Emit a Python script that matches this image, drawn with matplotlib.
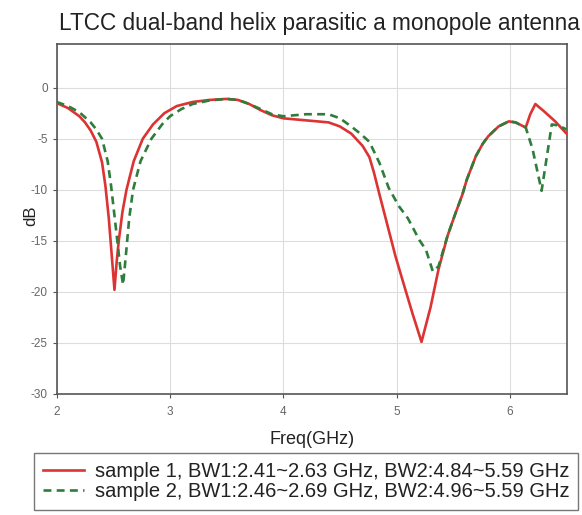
import matplotlib
matplotlib.use("Agg")
import matplotlib.pyplot as plt

plt.rcParams["font.family"] = ["Liberation Sans", "DejaVu Sans"]
plt.rcParams["axes.unicode_minus"] = False

TITLE = "LTCC dual-band helix parasitic a monopole antenna"
X_TICKS = [2, 3, 4, 5, 6]
Y_TICKS = [0, -5, -10, -15, -20, -25, -30]

# sample 1 (red, solid)
freq_1 = [2.0, 2.1, 2.2, 2.25, 2.3, 2.35, 2.4, 2.43, 2.46, 2.49, 2.51, 2.53, 2.548,
          2.58, 2.616, 2.68, 2.76, 2.85, 2.95, 3.06, 3.2, 3.35, 3.5, 3.6, 3.7,
          3.8, 3.9, 4.0, 4.1, 4.2, 4.3, 4.4, 4.5, 4.6, 4.7, 4.76, 4.8, 4.85, 4.92,
          4.99, 5.07, 5.14, 5.22, 5.30, 5.37, 5.45, 5.52, 5.58, 5.62, 5.7, 5.76,
          5.81, 5.9, 5.99, 6.05, 6.14, 6.18, 6.225, 6.3, 6.4, 6.5]
db_1 = [-1.5, -2.0, -2.8, -3.4, -4.2, -5.3, -7.3, -9.6, -12.8, -17.0, -19.8, -17.0, -15.0,
        -12.2, -10.0, -7.2, -5.0, -3.6, -2.5, -1.8, -1.4, -1.2, -1.1, -1.2, -1.6,
        -2.2, -2.7, -3.0, -3.1, -3.2, -3.3, -3.4, -3.8, -4.5, -5.7, -6.8, -8.3, -10.5, -13.5,
        -16.5, -19.5, -22.1, -24.9, -21.5, -17.8, -14.5, -12.3, -10.5, -9.0, -6.7, -5.5,
        -4.75, -3.8, -3.3, -3.4, -3.9, -2.6, -1.6, -2.3, -3.3, -4.5]

# sample 2 (green, dashed)
freq_2 = [2.0, 2.1, 2.2, 2.3, 2.35, 2.4, 2.45, 2.48, 2.52, 2.56, 2.586, 2.61, 2.64,
          2.674, 2.74, 2.836, 2.93, 3.0, 3.1, 3.2, 3.35, 3.5, 3.6, 3.7, 3.8, 3.9,
          4.0, 4.1, 4.2, 4.3, 4.4, 4.5, 4.6, 4.68, 4.76, 4.85, 4.93, 5.02, 5.1,
          5.2, 5.26, 5.32, 5.37, 5.45, 5.52, 5.58, 5.62, 5.7, 5.76, 5.81, 5.9,
          5.99, 6.05, 6.14, 6.2, 6.28, 6.33, 6.37, 6.43, 6.5]
db_2 = [-1.4, -1.8, -2.4, -3.4, -4.1, -5.0, -7.2, -9.6, -13.5, -17.5, -19.3, -16.5, -12.8,
        -10.0, -7.2, -5.0, -3.6, -2.8, -2.1, -1.6, -1.25, -1.1, -1.2, -1.6, -2.1, -2.6,
        -2.8, -2.7, -2.6, -2.6, -2.6, -3.0, -3.8, -4.5, -5.3, -7.4, -9.8, -11.6, -12.8,
        -14.9, -15.9, -18.0, -17.5, -14.5, -12.3, -10.5, -9.0, -6.7, -5.5, -4.75, -3.8,
        -3.3, -3.4, -3.9, -6.0, -10.1, -6.5, -3.6, -3.7, -4.1]

LABEL_1 = "sample 1, BW1:2.41~2.63 GHz, BW2:4.84~5.59 GHz"
LABEL_2 = "sample 2, BW1:2.46~2.69 GHz, BW2:4.96~5.59 GHz"

fig = plt.figure(figsize=(5.82, 5.15), dpi=100)
ax = fig.add_axes([0.0974, 0.235, 0.876, 0.680])

ax.plot(freq_1, db_1, color="#dc3333", lw=1.9, label=LABEL_1, zorder=3)
ax.plot(freq_2, db_2, color="#2e7d3a", lw=1.9, ls=(0, (3, 2)), label=LABEL_2, zorder=4)

ax.set_xlim(2, 6.5)
ax.set_ylim(-30, 4.3)
ax.set_xticks(X_TICKS)
ax.set_yticks(Y_TICKS)
ax.grid(True, color="#dddddd", lw=0.8)
ax.set_axisbelow(True)
ax.tick_params(axis="both", labelsize=8.5, labelcolor="#666666", color="#555555",
               length=3, width=0.8)
ax.tick_params(axis="x", pad=6)
for s in ax.spines.values():
    s.set_color("#555555")
    s.set_linewidth(1.2)

ax.set_title(TITLE, fontsize=16.3, color="#222222", pad=10, x=0.515)
ax.set_xlabel("Freq(GHz)", fontsize=13, color="#222222", labelpad=9)
ax.set_ylabel("dB", fontsize=12, color="#222222")
ax.yaxis.set_label_coords(-0.036, 0.51)

leg = fig.legend(loc="upper left", bbox_to_anchor=(0.059, 0.121), fontsize=14.5,
                 frameon=True, fancybox=False, edgecolor="#555555",
                 handlelength=2.0, borderpad=0.45, labelspacing=0.05,
                 borderaxespad=0, handletextpad=0.55)
leg.get_frame().set_linewidth(1.0)
for t in leg.get_texts():
    t.set_color("#222222")

fig.savefig("out.png", dpi=100)
